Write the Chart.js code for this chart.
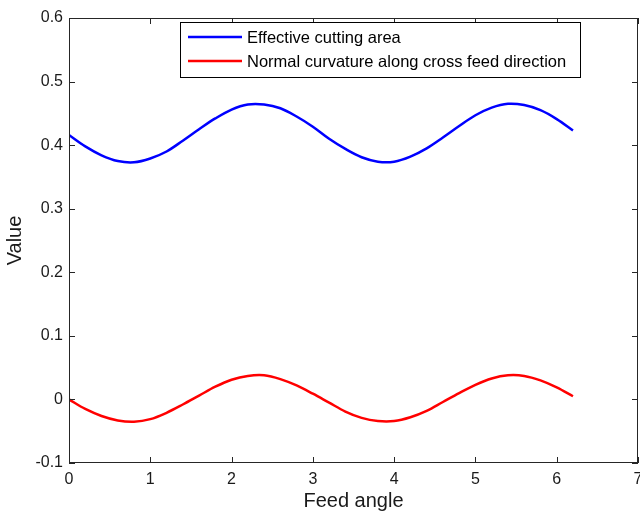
<html>
<head>
    <meta charset="utf-8">
    <title>Feed angle</title>
    <style>
        body { margin: 0; background: #fff; }
        #wrap { width: 640px; height: 513px; }
    </style>
</head>
<body>
    <div id="wrap"><canvas id="myChart" width="640" height="513"></canvas></div>
</body>
<script src="https://cdn.jsdelivr.net/npm/chart.js"></script>
<script>
    const feedAngle = [0, 0.2, 0.4, 0.6, 0.8, 1.0, 1.2, 1.4, 1.6, 1.8, 2.0, 2.2, 2.4, 2.6, 2.8, 3.0,
        3.2, 3.4, 3.6, 3.8, 4.0, 4.2, 4.4, 4.6, 4.8, 5.0, 5.2, 5.4, 5.6, 5.8, 6.0, 6.2]
    const cuttingArea = [0.416, 0.398, 0.384, 0.375, 0.373, 0.379, 0.390, 0.407, 0.425, 0.442, 0.456,
        0.464, 0.464, 0.458, 0.445, 0.429, 0.410, 0.394, 0.381, 0.374, 0.374, 0.382, 0.395, 0.412,
        0.430, 0.447, 0.459, 0.465, 0.463, 0.455, 0.441, 0.423]
    const crossCurvature = [0.000, -0.015, -0.026, -0.033, -0.035, -0.031, -0.021, -0.008, 0.006, 0.020,
        0.031, 0.037, 0.038, 0.032, 0.022, 0.009, -0.005, -0.019, -0.029, -0.034, -0.034, -0.028,
        -0.018, -0.004, 0.010, 0.023, 0.033, 0.038, 0.037, 0.030, 0.019, 0.005]
    const seriesNames = ['Effective cutting area', 'Normal curvature along cross feed direction']
    const xTicks = [0, 1, 2, 3, 4, 5, 6, 7]
    const yTicks = [-0.1, 0, 0.1, 0.2, 0.3, 0.4, 0.5, 0.6]

    const FONT = 'Arial, "Liberation Sans", sans-serif'

    const toPoints = (ys) => feedAngle.map((x, i) => ({ x: x, y: ys[i] }))

    const fmt = (v) => {
        if (Math.abs(v) < 1e-9) return '0'
        return Number.isInteger(v) ? String(v) : v.toFixed(1)
    }

    // matlab style box with inward ticks on all four sides, x labels, legend
    const boxPlugin = {
        id: 'box',
        afterDraw(chart) {
            const { ctx, chartArea: a, scales } = chart
            ctx.save()
            ctx.strokeStyle = '#262626'
            ctx.lineWidth = 1
            ctx.strokeRect(a.left + 0.5, a.top + 0.5, a.right - a.left - 1, a.bottom - a.top - 1)
            ctx.beginPath()
            xTicks.forEach(v => {
                const px = Math.round(scales.x.getPixelForValue(v)) + 0.5
                ctx.moveTo(px, a.bottom); ctx.lineTo(px, a.bottom - 6)
                ctx.moveTo(px, a.top); ctx.lineTo(px, a.top + 6)
            })
            yTicks.forEach(v => {
                const py = Math.round(scales.y.getPixelForValue(v)) + 0.5
                ctx.moveTo(a.left, py); ctx.lineTo(a.left + 6, py)
                ctx.moveTo(a.right, py); ctx.lineTo(a.right - 6, py)
            })
            ctx.stroke()

            // x tick labels (the last one runs off the canvas as in the original)
            ctx.fillStyle = '#1a1a1a'
            ctx.font = '16px ' + FONT
            ctx.textAlign = 'center'
            ctx.textBaseline = 'middle'
            xTicks.forEach(v => {
                ctx.fillText(fmt(v), scales.x.getPixelForValue(v), a.bottom + 17)
            })

            // legend box
            const lx = 180, ly = 22, lw = 400, lh = 55
            ctx.fillStyle = '#fff'
            ctx.fillRect(lx, ly, lw, lh)
            ctx.strokeStyle = '#000'
            ctx.strokeRect(lx + 0.5, ly + 0.5, lw, lh)
            ctx.font = '16.5px ' + FONT
            ctx.textAlign = 'left'
            chart.data.datasets.forEach((ds, i) => {
                const y = ly + 15 + i * 24
                ctx.strokeStyle = ds.borderColor
                ctx.lineWidth = 2.5
                ctx.beginPath()
                ctx.moveTo(lx + 8, y); ctx.lineTo(lx + 62, y)
                ctx.stroke()
                ctx.fillStyle = '#000'
                ctx.fillText(ds.label, lx + 67, y + 1)
            })
            ctx.restore()
        }
    }

    const ctx = document.getElementById('myChart').getContext('2d')
    new Chart(ctx, {
        type: 'line',
        data: {
            datasets: [{
                label: seriesNames[0],
                data: toPoints(cuttingArea),
                borderColor: '#0000ff',
                borderWidth: 2.5,
                pointRadius: 0,
                tension: 0.35,
                fill: false
            }, {
                label: seriesNames[1],
                data: toPoints(crossCurvature),
                borderColor: '#ff0000',
                borderWidth: 2.5,
                pointRadius: 0,
                tension: 0.35,
                fill: false
            }]
        },
        options: {
            responsive: false,
            animation: false,
            layout: { padding: { top: 18, right: 2, left: 0, bottom: 0 } },
            plugins: {
                legend: { display: false },
                tooltip: { enabled: false }
            },
            scales: {
                x: {
                    type: 'linear',
                    min: 0,
                    max: 7,
                    afterBuildTicks: (s) => { s.ticks = xTicks.map(v => ({ value: v })) },
                    afterFit: (s) => { s.height = 50 },
                    grid: { display: false, drawTicks: false },
                    border: { display: false },
                    ticks: { display: false },
                    title: {
                        display: true,
                        text: 'Feed angle',
                        color: '#1a1a1a',
                        font: { family: FONT, size: 20 },
                        padding: { top: 0, bottom: 0 }
                    }
                },
                y: {
                    type: 'linear',
                    min: -0.1,
                    max: 0.6,
                    afterBuildTicks: (s) => { s.ticks = yTicks.map(v => ({ value: v })) },
                    afterFit: (s) => { s.width = 69 },
                    grid: { display: false, drawTicks: false },
                    border: { display: false },
                    ticks: {
                        padding: 6,
                        color: '#1a1a1a',
                        font: { family: FONT, size: 16 },
                        callback: fmt
                    },
                    title: {
                        display: true,
                        text: 'Value',
                        color: '#1a1a1a',
                        font: { family: FONT, size: 20 },
                        padding: { top: 3, bottom: 0 }
                    }
                }
            }
        },
        plugins: [boxPlugin]
    })
</script>
</html>
